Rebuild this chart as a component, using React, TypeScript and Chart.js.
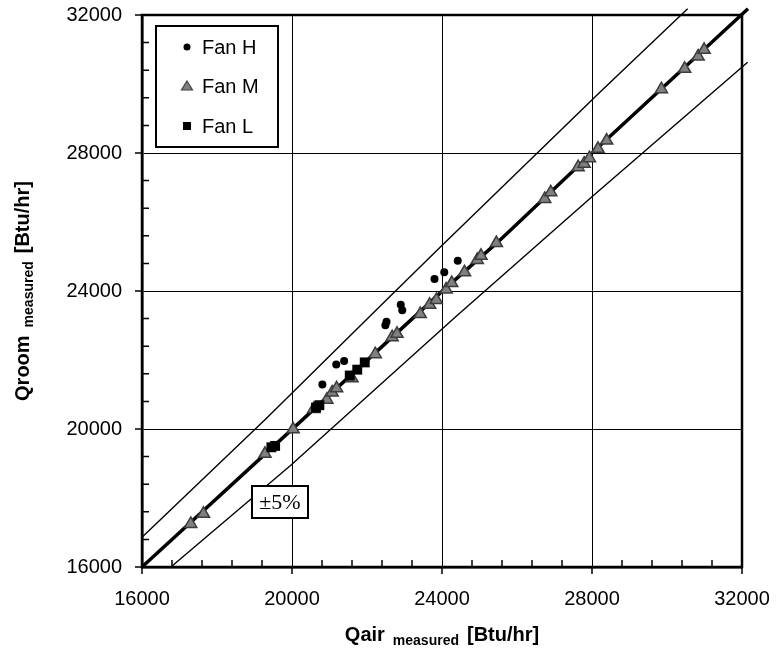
import React, { useEffect, useRef } from 'react';
import { Chart, registerables } from 'chart.js';

Chart.register(...registerables);

// ---- data ----
const fanHX = [20810, 21180, 21390, 22490, 22520, 22900, 22940, 23800, 24060, 24420];
const fanHY = [21290, 21870, 21970, 23010, 23110, 23600, 23440, 24350, 24540, 24880];

const fanMX = [17300, 17640, 19280, 20030, 20580, 20930, 21070, 21190, 21600, 22220, 22670, 22800, 23420, 23670, 23850, 24110, 24260, 24600, 24940, 25040, 25450, 26740, 26900, 27630, 27790, 27930, 28160, 28390, 29850, 30470, 30830, 30990];
const fanMY = [17250, 17540, 19280, 19990, 20580, 20850, 21060, 21180, 21470, 22170, 22660, 22760, 23330, 23600, 23740, 24040, 24230, 24540, 24900, 25020, 25390, 26670, 26860, 27590, 27690, 27850, 28120, 28360, 29850, 30440, 30800, 30990];

const fanLX = [19450, 19550, 20640, 20730, 21540, 21740, 21940];
const fanLY = [19470, 19510, 20620, 20690, 21550, 21720, 21930];

const upperX = [16000, 19300, 22360, 23950, 28210, 30550];
const upperY = [16860, 20290, 23575, 25270, 29760, 32180];
const lowerX = [16770, 19960, 24350, 28030, 32150];
const lowerY = [16000, 18940, 23240, 26760, 30630];
const fitX = [16000, 20000, 24000, 25500, 28000, 32160];
const fitY = [16000, 19990, 23990, 25430, 28000, 32180];

const axisMin = 16000;
const axisMax = 32000;
const majorStep = 4000;
const minorStep = 800;

const seriesLabels = ['Fan H', 'Fan M', 'Fan L'];
const bandLabel = '\u00B15%';
const xTitleMain = 'Qair';
const yTitleMain = 'Qroom';
const titleSub = 'measured';
const titleUnit = '[Btu/hr]';

const SANS = '"Liberation Sans", Arial, sans-serif';
const SERIF = '"Liberation Serif", "Times New Roman", serif';

const pts = (xs: number[], ys: number[]) => xs.map((x, i) => ({ x, y: ys[i] }));

function drawTitle(ctx: CanvasRenderingContext2D, cx: number, cy: number, rotate: boolean) {
  const parts = [
    { t: rotate ? yTitleMain : xTitleMain, f: `bold 20px ${SANS}`, dy: 0 },
    { t: titleSub, f: `bold 14px ${SANS}`, dy: 4 },
    { t: titleUnit, f: `bold 20px ${SANS}`, dy: 0 },
  ];
  const gap = 8;
  let total = 0;
  const widths = parts.map((p) => {
    ctx.font = p.f;
    const w = ctx.measureText(p.t).width;
    total += w;
    return w;
  });
  total += gap * (parts.length - 1);
  ctx.save();
  ctx.translate(cx, cy);
  if (rotate) ctx.rotate(-Math.PI / 2);
  ctx.fillStyle = '#000';
  ctx.textBaseline = 'alphabetic';
  ctx.textAlign = 'left';
  let x = -total / 2;
  parts.forEach((p, i) => {
    ctx.font = p.f;
    ctx.fillText(p.t, x, 7 + p.dy);
    x += widths[i] + gap;
  });
  ctx.restore();
}

const decorPlugin = {
  id: 'decor',
  afterDraw(chart: any) {
    const ctx: CanvasRenderingContext2D = chart.ctx;
    const xs = chart.scales.x;
    const ys = chart.scales.y;
    const a = chart.chartArea;
    ctx.save();
    ctx.strokeStyle = '#000';
    ctx.lineWidth = 1.5;
    // tick marks
    for (let v = axisMin; v <= axisMax; v += minorStep) {
      const major = v % majorStep === 0;
      const px = xs.getPixelForValue(v);
      const py = ys.getPixelForValue(v);
      ctx.beginPath();
      if (major) {
        ctx.moveTo(px, a.bottom);
        ctx.lineTo(px, a.bottom + 7);
        ctx.moveTo(a.left, py);
        ctx.lineTo(a.left - 7, py);
      } else {
        ctx.moveTo(px, a.bottom);
        ctx.lineTo(px, a.bottom - 7);
        ctx.moveTo(a.left, py);
        ctx.lineTo(a.left + 7, py);
      }
      ctx.stroke();
    }
    // frame
    ctx.lineWidth = 2.5;
    ctx.strokeRect(a.left, a.top, a.right - a.left, a.bottom - a.top);

    // ±5% box
    const bx = 252, by = 486, bw = 56, bh = 32;
    ctx.fillStyle = '#fff';
    ctx.fillRect(bx, by, bw, bh);
    ctx.lineWidth = 2;
    ctx.strokeRect(bx, by, bw, bh);
    ctx.fillStyle = '#000';
    ctx.font = `22px ${SERIF}`;
    ctx.textAlign = 'center';
    ctx.textBaseline = 'middle';
    ctx.fillText(bandLabel, bx + bw / 2, by + bh / 2 + 1);

    // legend
    const lx = 156, ly = 26, lw = 122, lh = 121;
    ctx.fillStyle = '#fff';
    ctx.fillRect(lx, ly, lw, lh);
    ctx.lineWidth = 2;
    ctx.strokeRect(lx, ly, lw, lh);
    const rows = [47, 86, 126];
    const mx = 187;
    ctx.fillStyle = '#000';
    ctx.beginPath();
    ctx.arc(mx, rows[0], 3.5, 0, Math.PI * 2);
    ctx.fill();
    ctx.beginPath();
    ctx.moveTo(mx, rows[1] - 5);
    ctx.lineTo(mx + 5.5, rows[1] + 4);
    ctx.lineTo(mx - 5.5, rows[1] + 4);
    ctx.closePath();
    ctx.fillStyle = '#808080';
    ctx.fill();
    ctx.strokeStyle = '#404040';
    ctx.lineWidth = 1.2;
    ctx.stroke();
    ctx.fillStyle = '#000';
    ctx.fillRect(mx - 4, rows[2] - 4, 8, 8);
    ctx.font = `20px ${SANS}`;
    ctx.textAlign = 'left';
    ctx.textBaseline = 'middle';
    seriesLabels.forEach((l, i) => ctx.fillText(l, 202, rows[i] + 1));

    // axis titles
    drawTitle(ctx, (a.left + a.right) / 2, 634, false);
    drawTitle(ctx, 22, (a.top + a.bottom) / 2, true);
    ctx.restore();
  },
};

const zeroPad = (s: any) => {
  s.paddingTop = 0;
  s.paddingBottom = 0;
  s.paddingLeft = 0;
  s.paddingRight = 0;
};

export default function App() {
  const ref = useRef<HTMLCanvasElement | null>(null);
  useEffect(() => {
    if (!ref.current) return;
    const lineStyle = (data: any, w: number) => ({
      type: 'line' as const,
      data,
      borderColor: '#000',
      borderWidth: w,
      pointRadius: 0,
      showLine: true,
      fill: false,
      tension: 0,
      clip: false as any,
      order: 10,
    });
    const chart = new Chart(ref.current, {
      type: 'scatter',
      data: {
        datasets: [
          { label: 'upper', ...lineStyle(pts(upperX, upperY), 1.4) },
          { label: 'lower', ...lineStyle(pts(lowerX, lowerY), 1.4) },
          { label: 'fit', ...lineStyle(pts(fitX, fitY), 3.5) },
          {
            label: seriesLabels[0],
            data: pts(fanHX, fanHY),
            pointStyle: 'circle',
            pointRadius: 4,
            backgroundColor: '#000',
            borderColor: '#000',
            borderWidth: 0,
            order: 3,
          },
          {
            label: seriesLabels[1],
            data: pts(fanMX, fanMY),
            pointStyle: 'triangle',
            pointRadius: 7,
            backgroundColor: '#808080',
            borderColor: '#3c3c3c',
            borderWidth: 1.5,
            order: 2,
          },
          {
            label: seriesLabels[2],
            data: pts(fanLX, fanLY),
            pointStyle: 'rect',
            pointRadius: 7,
            backgroundColor: '#000',
            borderColor: '#000',
            borderWidth: 0,
            order: 1,
          },
        ],
      },
      options: {
        animation: false,
        responsive: false,
        maintainAspectRatio: false,
        layout: { padding: { left: 0, top: 15, right: 34, bottom: 0 } },
        plugins: { legend: { display: false }, tooltip: { enabled: false } },
        scales: {
          x: {
            type: 'linear',
            min: axisMin,
            max: axisMax,
            afterFit: (s: any) => { s.height = 92; zeroPad(s); },
            ticks: {
              stepSize: majorStep,
              color: '#000',
              font: { family: SANS, size: 20 },
              padding: 20,
              maxRotation: 0,
              callback: (v: any) => String(v),
            },
            grid: { color: '#000', lineWidth: 1, drawTicks: false },
            border: { color: '#000', width: 2.5 },
          },
          y: {
            type: 'linear',
            min: axisMin,
            max: axisMax,
            afterFit: (s: any) => { s.width = 142; zeroPad(s); },
            ticks: {
              stepSize: majorStep,
              color: '#000',
              font: { family: SANS, size: 20 },
              padding: 20,
              callback: (v: any) => String(v),
            },
            grid: { color: '#000', lineWidth: 1, drawTicks: false },
            border: { color: '#000', width: 2.5 },
          },
        },
      },
      plugins: [decorPlugin],
    });
    return () => chart.destroy();
  }, []);
  return (
    <div style={{ position: 'absolute', left: 0, top: 0, width: 776, height: 659, background: '#fff' }}>
      <canvas ref={ref} width={776} height={659} style={{ width: 776, height: 659, display: 'block' }} />
    </div>
  );
}
